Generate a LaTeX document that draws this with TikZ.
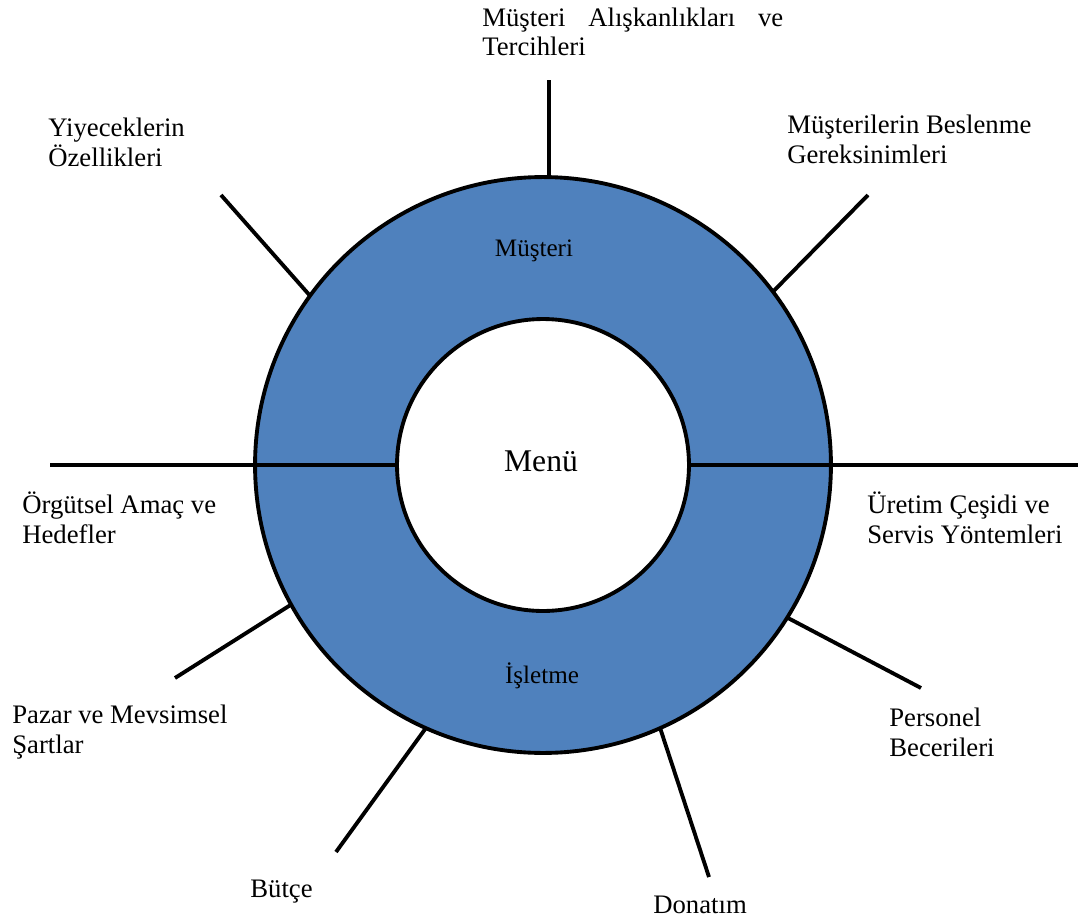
\documentclass[tikz,border=0pt]{standalone}
\usepackage{fontspec}
\setmainfont{Liberation Serif}
\definecolor{ringblue}{HTML}{4F81BD}
\begin{document}
\begin{tikzpicture}[x=0.02cm, y=-0.02cm,
  ring/.style={circle, draw, line width=2.2pt, outer sep=0pt, inner sep=0pt},
  spoke/.style={line width=2.2pt},
  lbl/.style={inner sep=0pt, align=left, font=\fontsize{15.2}{16.8}\selectfont},
  inlbl/.style={inner sep=0pt, anchor=base, font=\fontsize{14.3}{16}\selectfont}
]
  \useasboundingbox (0,0) rectangle (1080,920);

  % Rings
  \node[ring, fill=ringblue, minimum size=11.52cm] (outer) at (543,465) {};
  \node[ring, fill=white, minimum size=5.84cm] (hub) at (543,465) {};

  % Free ends of the spokes
  \coordinate (nEnd)  at (549,80);
  \coordinate (neEnd) at (868,195);
  \coordinate (nwEnd) at (221,195);
  \coordinate (wEnd)  at (50,465);
  \coordinate (eEnd)  at (1078,465);
  \coordinate (seEnd) at (921,688);
  \coordinate (swEnd) at (175,678);
  \coordinate (sswEnd) at (336,852);
  \coordinate (sseEnd) at (709,877);

  % Spokes
  \draw[spoke] (nEnd |- outer.north) -- (nEnd);
  \draw[spoke] (outer.37.1) -- (neEnd);
  \draw[spoke] (outer.144.6) -- (nwEnd);
  \draw[spoke] (wEnd) -- (hub.west);
  \draw[spoke] (hub.east) -- (eEnd);
  \draw[spoke] (outer.-32.5) -- (seEnd);
  \draw[spoke] (outer.209.5) -- (swEnd);
  \draw[spoke] (outer.246.2) -- (sswEnd);
  \draw[spoke] (outer.294.2) -- (sseEnd);

  % Ring texts
  \node[inlbl] (cust) at (534,256) {Müşteri};
  \node[anchor=base, inner sep=0pt, font=\fontsize{18}{20}\selectfont] (menu) at (541,471) {Menü};
  \node[inlbl] (biz) at (542,683) {İşletme};

  % Outer labels (base = last line, first line for the justified one)
  \node[lbl, anchor=base west, text width=6.02cm, align=justify] (habit) at (482,26) {Müşteri Alışkanlıkları ve\linebreak Tercihleri};
  \node[lbl, anchor=base west] (food) at (48,166) {Yiyeceklerin\\Özellikleri};
  \node[lbl, anchor=base west] (diet) at (787,163) {Müşterilerin Beslenme\\Gereksinimleri};
  \node[lbl, anchor=base west] (org) at (22,543) {Örgütsel Amaç ve\\Hedefler};
  \node[lbl, anchor=base west] (prod) at (867,543) {Üretim Çeşidi ve\\Servis Yöntemleri};
  \node[lbl, anchor=base west] (market) at (12,753) {Pazar ve Mevsimsel\\Şartlar};
  \node[lbl, anchor=base west] (staff) at (889,756) {Personel\\Becerileri};
  \node[lbl, anchor=base west] (budget) at (250,897) {Bütçe};
  \node[lbl, anchor=base west] (equip) at (653,913) {Donatım};
\end{tikzpicture}
\end{document}
